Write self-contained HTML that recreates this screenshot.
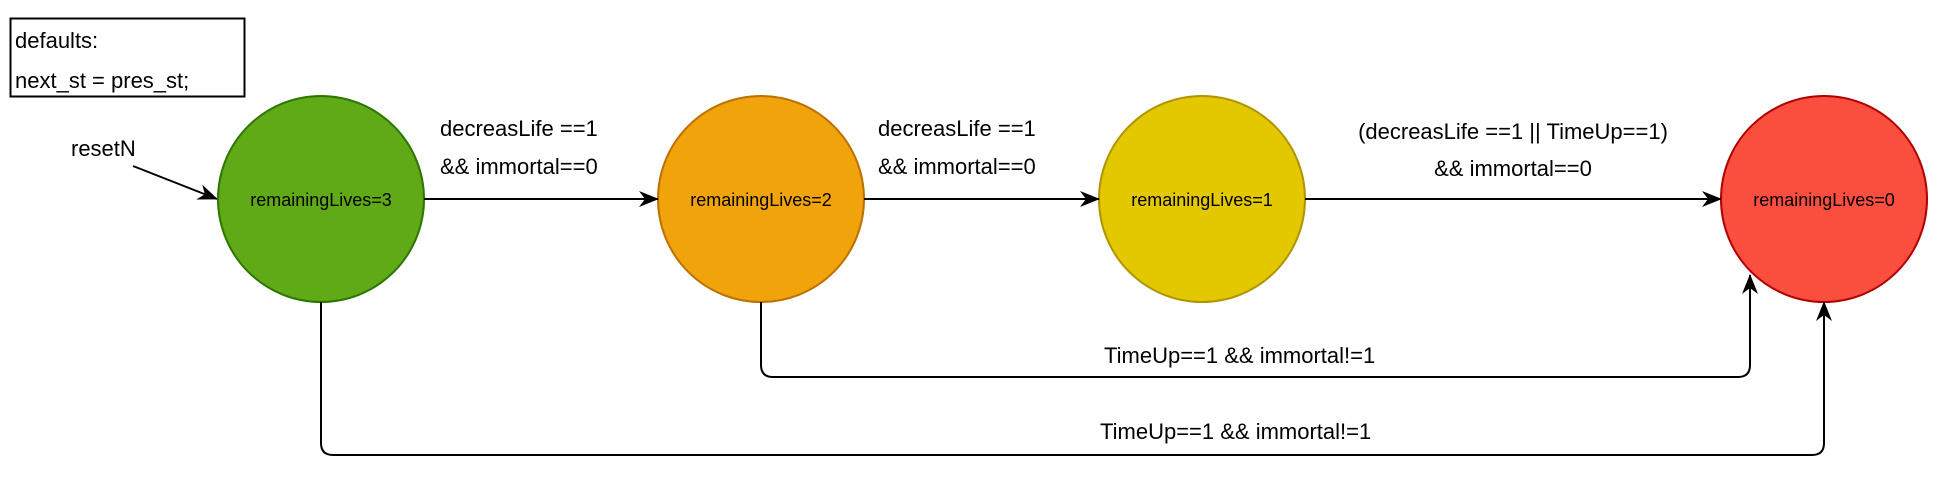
<!DOCTYPE html>
<html><head><meta charset="utf-8"><style>
html,body{margin:0;padding:0;background:#fff;}
svg{display:block;font-family:"Liberation Sans",Arial,sans-serif;}
</style></head><body>
<svg width="1940" height="486" viewBox="0 0 1940 486" xmlns="http://www.w3.org/2000/svg">
<defs>
<marker id="a" markerWidth="20" markerHeight="16" refX="19" refY="8" orient="auto" markerUnits="userSpaceOnUse">
<path d="M0,0 L20,8 L0,16 L6,8 Z" fill="#000"/>
</marker>
</defs>
<rect x="10.5" y="18.5" width="234" height="78" fill="#fff" stroke="#000" stroke-width="2"/>
<text x="15" y="48" font-size="22">defaults:</text>
<text x="15" y="88" font-size="22">next_st = pres_st;</text>

<text x="71" y="156" font-size="22">resetN</text>
<line x1="133" y1="166" x2="217" y2="199" stroke="#000" stroke-width="2" marker-end="url(#a)"/>

<g stroke-width="2">
<circle cx="321" cy="199" r="103" fill="#60a917" stroke="#2d7600"/>
<circle cx="761" cy="199" r="103" fill="#f0a30a" stroke="#bd7000"/>
<circle cx="1202" cy="199" r="103" fill="#e3c800" stroke="#b09500"/>
<circle cx="1824" cy="199" r="103" fill="#fa4f3f" stroke="#b20000"/>
</g>
<g font-size="18" text-anchor="middle">
<text x="321" y="206">remainingLives=3</text>
<text x="761" y="206">remainingLives=2</text>
<text x="1202" y="206">remainingLives=1</text>
<text x="1824" y="206">remainingLives=0</text>
</g>

<g stroke="#000" stroke-width="2" fill="none">
<line x1="424" y1="199" x2="658" y2="199" marker-end="url(#a)"/>
<line x1="864" y1="199" x2="1099" y2="199" marker-end="url(#a)"/>
<line x1="1305" y1="199" x2="1721" y2="199" marker-end="url(#a)"/>
<path d="M761,302 V365 Q761,377 773,377 H1738 Q1750,377 1750,365 V275" marker-end="url(#a)"/>
<path d="M321,302 V443 Q321,455 333,455 H1812 Q1824,455 1824,443 V302" marker-end="url(#a)"/>
</g>

<g font-size="22">
<text x="440" y="136">decreasLife ==1</text>
<text x="440" y="174">&amp;&amp; immortal==0</text>
<text x="878" y="136">decreasLife ==1</text>
<text x="878" y="174">&amp;&amp; immortal==0</text>
<text x="1513" y="139" text-anchor="middle">(decreasLife ==1 || TimeUp==1)</text>
<text x="1513" y="176" text-anchor="middle">&amp;&amp; immortal==0</text>
<text x="1104" y="363">TimeUp==1 &amp;&amp; immortal!=1</text>
<text x="1100" y="439">TimeUp==1 &amp;&amp; immortal!=1</text>
</g>
</svg>
</body></html>
